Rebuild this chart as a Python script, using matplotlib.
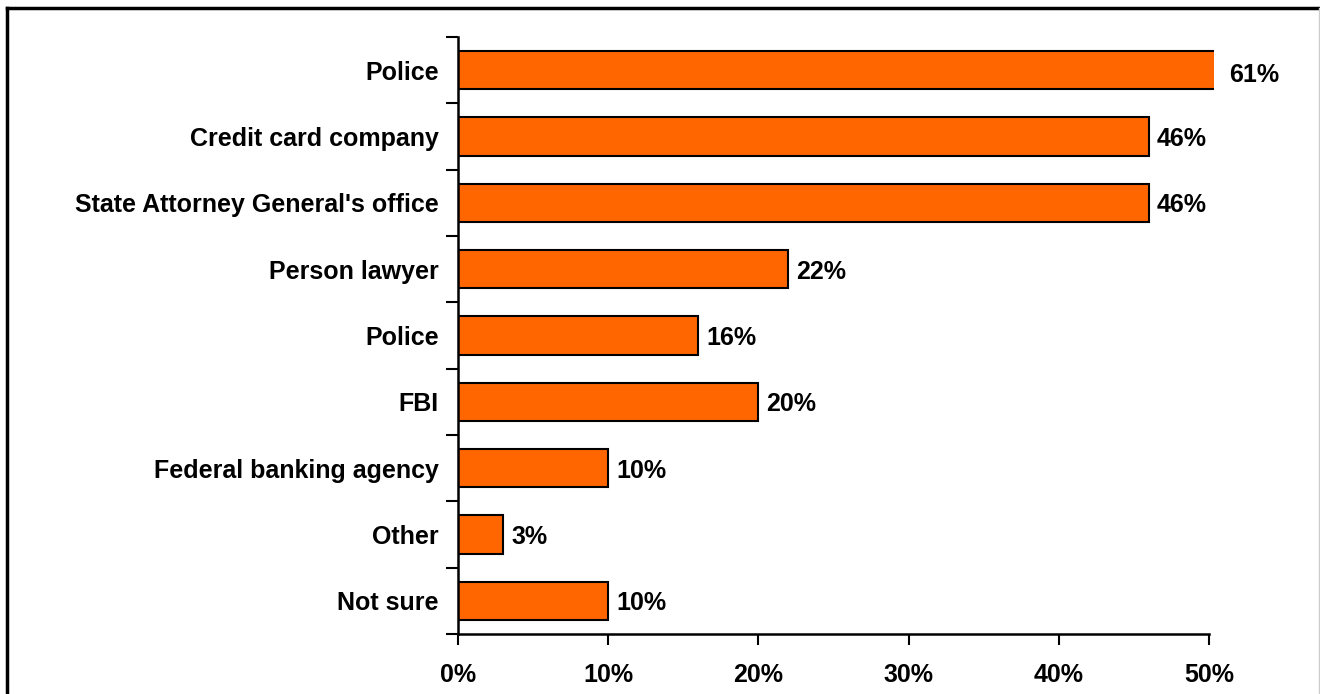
import matplotlib
matplotlib.use("Agg")
import matplotlib.pyplot as plt
from matplotlib.patches import Rectangle
from matplotlib.lines import Line2D
import numpy as np

categories = ["Police", "Credit card company", "State Attorney General's office",
              "Person lawyer", "Police", "FBI", "Federal banking agency", "Other", "Not sure"]
values = [61, 46, 46, 22, 16, 20, 10, 3, 10]
xticks = [0, 10, 20, 30, 40, 50]
xtick_labels = ["0%", "10%", "20%", "30%", "40%", "50%"]

plt.rcParams['font.family'] = ['Liberation Sans', 'DejaVu Sans']
plt.rcParams['font.weight'] = 'bold'

fig = plt.figure(figsize=(13.2, 6.94), dpi=100)
ax = fig.add_axes([458/1320, 1-634/694, (1209-458)/1320, (634-37)/694])

n = len(categories)
ypos = np.arange(n)
bars = ax.barh(ypos, values, height=0.58, color="#FF6600", edgecolor="black", linewidth=1.5)
ax.set_xlim(0, 50)
ax.set_ylim(n-0.5, -0.5)

clip = Rectangle((0, 0), 1.006, 1, transform=ax.transAxes, visible=False)
ax.add_patch(clip)
for b in bars:
    b.set_clip_path(clip)

fs = 18
for y, v in zip(ypos, values):
    if v > 50:
        ax.annotate(f"{v}%", xy=(50.3, y), xytext=(16, -2), textcoords="offset pixels",
                    va="center_baseline", ha="left", fontsize=fs, fontweight="bold", annotation_clip=False)
    else:
        ax.annotate(f"{v}%", xy=(v, y), xytext=(8, 0), textcoords="offset pixels",
                    va="center_baseline", ha="left", fontsize=fs, fontweight="bold")

ax.set_yticks(ypos)
ax.set_yticklabels(categories, fontsize=fs, fontweight="bold")
ax.set_yticks(np.arange(-0.5, n, 1.0), minor=True)
ax.tick_params(axis="y", which="major", length=0, pad=14)
ax.tick_params(axis="y", which="minor", length=9, width=1.5, direction="out")
ax.set_xticks(xticks)
ax.set_xticklabels(xtick_labels, fontsize=fs, fontweight="bold")
ax.tick_params(axis="x", which="major", length=8, width=1.5, direction="out", pad=13)

for s in ["top", "right"]:
    ax.spines[s].set_visible(False)
for s in ["left", "bottom"]:
    ax.spines[s].set_linewidth(1.8)

fig.add_artist(Line2D([7/1320, 7/1320], [0, 1-8/694], color="black", linewidth=2.5, transform=fig.transFigure))
fig.add_artist(Line2D([7/1320, 1], [1-8/694, 1-8/694], color="black", linewidth=2.5, transform=fig.transFigure))
fig.add_artist(Line2D([1319/1320, 1319/1320], [0, 1-8/694], color="#cccccc", linewidth=1, transform=fig.transFigure))

fig.savefig("out.png", dpi=100)
